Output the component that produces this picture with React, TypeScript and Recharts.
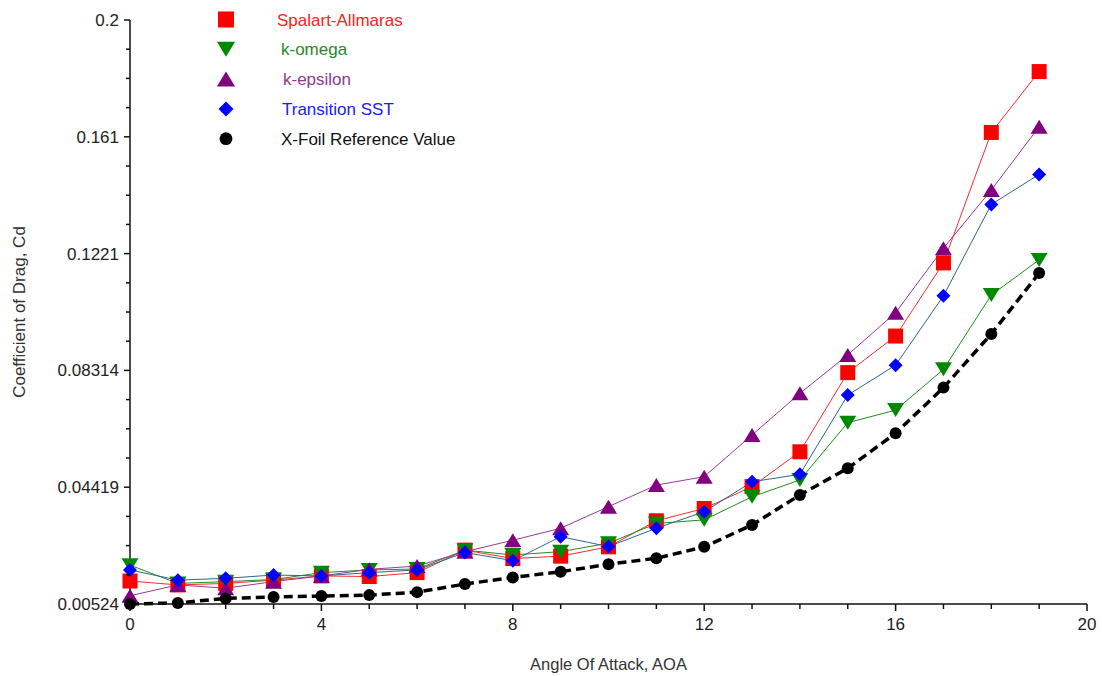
import { LineChart, Line, XAxis, YAxis, Legend, Label } from 'recharts';

// angle of attack, deg
const aoa = [0, 1, 2, 3, 4, 5, 6, 7, 8, 9, 10, 11, 12, 13, 14, 15, 16, 17, 18, 19];

// drag coefficient Cd per model
const spalartAllmaras = [0.0129, 0.0116, 0.0121, 0.0132, 0.0146, 0.0144, 0.0157, 0.0232, 0.0204, 0.0212, 0.0243, 0.033, 0.0371, 0.0444, 0.056, 0.0824, 0.0946, 0.119, 0.1625, 0.1828];
const kOmega = [0.0182, 0.0121, 0.0127, 0.0134, 0.0157, 0.0166, 0.0169, 0.0232, 0.0216, 0.0227, 0.0255, 0.0321, 0.0333, 0.041, 0.0466, 0.0657, 0.0699, 0.0835, 0.1083, 0.12];
const kEpsilon = [0.008, 0.0116, 0.0105, 0.0127, 0.0146, 0.0168, 0.0179, 0.0227, 0.0265, 0.0305, 0.0377, 0.0449, 0.0477, 0.0616, 0.0755, 0.0883, 0.1024, 0.1239, 0.1433, 0.1644];
const transitionSST = [0.0166, 0.0132, 0.0138, 0.0149, 0.0146, 0.0157, 0.0166, 0.0224, 0.0197, 0.0277, 0.0244, 0.0305, 0.036, 0.046, 0.0485, 0.0749, 0.0849, 0.108, 0.1385, 0.1485];
const xfoil = [0.00524, 0.0056, 0.0071, 0.0076, 0.0079, 0.0082, 0.0092, 0.0119, 0.0141, 0.016, 0.0185, 0.0205, 0.0243, 0.0316, 0.0416, 0.0505, 0.0622, 0.0774, 0.0953, 0.1156];

const yMajorTicks = [0.00524, 0.04419, 0.08314, 0.12209, 0.16104, 0.2];
const yTickLabels = ['0.00524', '0.04419', '0.08314', '0.1221', '0.161', '0.2'];
const xTicks = [0, 1, 2, 3, 4, 5, 6, 7, 8, 9, 10, 11, 12, 13, 14, 15, 16, 17, 18, 19, 20];
const xMajorTicks = [0, 4, 8, 12, 16, 20];

const FONT = '"Liberation Sans", Arial, Helvetica, sans-serif';

// 3 minor ticks between each pair of majors
const yTicks: number[] = [];
yMajorTicks.forEach((t, i) => {
  yTicks.push(t);
  const next = yMajorTicks[i + 1];
  if (next !== undefined) {
    for (let k = 1; k < 4; k++) yTicks.push(t + ((next - t) * k) / 4);
  }
});

const data = aoa.map((a, i) => ({
  aoa: a,
  sa: spalartAllmaras[i],
  ko: kOmega[i],
  ke: kEpsilon[i],
  sst: transitionSST[i],
  xf: xfoil[i],
}));

type Kind = 'square' | 'down' | 'up' | 'diamond' | 'circle';

function Marker({ kind, cx, cy, fill, s = 1 }: { kind: Kind; cx: number; cy: number; fill: string; s?: number }) {
  if (cx == null || cy == null) return null;
  switch (kind) {
    case 'square':
      return <rect x={cx - 7.5 * s} y={cy - 7.5 * s} width={15 * s} height={15 * s} fill={fill} />;
    case 'down':
      return <polygon points={`${cx - 8.5 * s},${cy - 7 * s} ${cx + 8.5 * s},${cy - 7 * s} ${cx},${cy + 7 * s}`} fill={fill} />;
    case 'up':
      return <polygon points={`${cx - 8.5 * s},${cy + 7 * s} ${cx + 8.5 * s},${cy + 7 * s} ${cx},${cy - 7 * s}`} fill={fill} />;
    case 'diamond':
      return <polygon points={`${cx},${cy - 7 * s} ${cx + 7 * s},${cy} ${cx},${cy + 7 * s} ${cx - 7 * s},${cy}`} fill={fill} />;
    default:
      return <circle cx={cx} cy={cy} r={6 * s} fill={fill} />;
  }
}

const series = [
  { key: 'sa', name: 'Spalart-Allmaras', kind: 'square' as Kind, line: '#ff2a2a', mark: '#ff0000', text: '#ff2020', textX: 77 },
  { key: 'ko', name: 'k-omega', kind: 'down' as Kind, line: '#1f8f1f', mark: '#008800', text: '#2a8a2a', textX: 81 },
  { key: 'ke', name: 'k-epsilon', kind: 'up' as Kind, line: '#9a3a9a', mark: '#800080', text: '#8e3a8e', textX: 83 },
  { key: 'sst', name: 'Transition SST', kind: 'diamond' as Kind, line: '#2f6690', mark: '#0000ff', text: '#1a1aff', textX: 82 },
  { key: 'xf', name: 'X-Foil Reference Value', kind: 'circle' as Kind, line: '#000000', mark: '#000000', text: '#111111', textX: 81 },
];

function YTick({ x, y, payload }: any) {
  const i = yMajorTicks.findIndex((t) => Math.abs(t - payload.value) < 1e-9);
  const major = i >= 0;
  return (
    <g>
      <line x1={x - (major ? 6 : 4)} x2={x} y1={y} y2={y} stroke="#111" strokeWidth={1.5} />
      {major && (
        <text x={x - 11} y={y} dy={6} textAnchor="end" fontFamily={FONT} fontSize={17} fill="#222">
          {yTickLabels[i]}
        </text>
      )}
    </g>
  );
}

function XTick({ x, y, payload }: any) {
  const major = xMajorTicks.includes(payload.value);
  return (
    <g>
      <line x1={x} x2={x} y1={y} y2={y + (major ? 7 : 5)} stroke="#111" strokeWidth={1.5} />
      {major && (
        <text x={x} y={y + 26} textAnchor="middle" fontFamily={FONT} fontSize={17} fill="#222">
          {payload.value}
        </text>
      )}
    </g>
  );
}

function LegendBox() {
  return (
    <svg width={320} height={160}>
      {series.map((s, i) => {
        const cy = 19.5 + i * 29.8;
        return (
          <g key={s.key}>
            <Marker kind={s.kind} cx={26} cy={cy} fill={s.mark} s={1.07} />
            <text x={s.textX} y={cy + 6} fill={s.text} fontFamily={FONT} fontSize={17}>
              {s.name}
            </text>
          </g>
        );
      })}
    </svg>
  );
}

export default function App() {
  return (
    <div style={{ position: 'absolute', left: 0, top: 0, width: 1102, height: 676, background: '#fff' }}>
      <LineChart width={1102} height={676} data={data} margin={{ top: 20, right: 15, bottom: 0, left: 0 }}>
        <XAxis
          dataKey="aoa"
          type="number"
          domain={[0, 20]}
          ticks={xTicks}
          interval={0}
          height={72}
          tickSize={0}
          tickMargin={0}
          tickLine={false}
          axisLine={{ stroke: '#111', strokeWidth: 1.5 }}
          tick={(p: any) => <XTick {...p} />}
        >
          <Label
            content={({ viewBox }: any) => (
              <text
                x={viewBox.x + viewBox.width / 2}
                y={viewBox.y + 66}
                textAnchor="middle"
                fontFamily={FONT}
                fontSize={16.5}
                fill="#333"
              >
                Angle Of Attack, AOA
              </text>
            )}
          />
        </XAxis>
        <YAxis
          type="number"
          domain={[0.00524, 0.2]}
          ticks={yTicks}
          interval={0}
          width={130}
          tickSize={0}
          tickMargin={0}
          tickLine={false}
          axisLine={{ stroke: '#111', strokeWidth: 1.5 }}
          tick={(p: any) => <YTick {...p} />}
        >
          <Label
            content={({ viewBox }: any) => {
              const cx = viewBox.x + 25;
              const cy = viewBox.y + viewBox.height / 2;
              return (
                <text
                  x={cx}
                  y={cy}
                  transform={`rotate(-90 ${cx} ${cy})`}
                  textAnchor="middle"
                  fontFamily={FONT}
                  fontSize={17}
                  fill="#333"
                >
                  Coefficient of Drag, Cd
                </text>
              );
            }}
          />
        </YAxis>
        <Legend
          layout="vertical"
          align="center"
          verticalAlign="middle"
          wrapperStyle={{ left: 200, top: 0, width: 320 }}
          content={() => <LegendBox />}
        />
        {series.map((s) => (
          <Line
            key={s.key}
            dataKey={s.key}
            name={s.name}
            type="linear"
            stroke={s.line}
            strokeWidth={s.key === 'xf' ? 3.5 : 1}
            strokeDasharray={s.key === 'xf' ? '9 5' : undefined}
            dot={(p: any) => <Marker key={`${s.key}-${p.index}`} kind={s.kind} cx={p.cx} cy={p.cy} fill={s.mark} />}
            activeDot={false}
            isAnimationActive={false}
          />
        ))}
      </LineChart>
    </div>
  );
}
